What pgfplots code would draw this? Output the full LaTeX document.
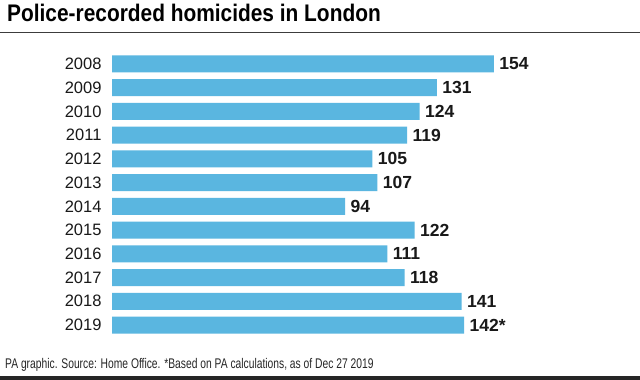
\documentclass[border=0pt]{standalone}
\usepackage{pgfplots}
\pgfplotsset{compat=1.18}
\usepackage{fontspec}
\setmainfont{Liberation Sans}
\definecolor{barblue}{RGB}{90,182,224}
\definecolor{rulegray}{RGB}{60,60,60}
\begin{document}
\begin{tikzpicture}[x=1pt,y=1pt]
\useasboundingbox (0,0) rectangle (640,380);
\fill[white] (0,0) rectangle (640,380);
\node[anchor=base west,inner sep=0pt,font=\bfseries\fontsize{24}{28}\selectfont] at (7,358) {\scalebox{0.87}[1]{Police-recorded homicides in London}};
\draw[rulegray,line width=1.5pt] (0,347.5) -- (640,347.5);
\node[anchor=base west,inner sep=0pt,font=\fontsize{14}{16}\selectfont,text=black!85] at (5,11) {\scalebox{0.735}[1]{PA graphic. Source: Home Office. *Based on PA calculations, as of Dec 27 2019}};
\fill[black!85] (0,0) rectangle (640,4);
\begin{axis}[
  at={(112pt,43.1pt)}, anchor=south west,
  scale only axis, width=496pt, height=284.8pt,
  xmin=0, xmax=200, ymin=-0.5, ymax=11.5, y dir=reverse,
  xbar, bar width=17pt,
  axis line style={draw=none},
  xtick=\empty, ytick={0,...,11},
  yticklabels={2008,2009,2010,2011,2012,2013,2014,2015,2016,2017,2018,2019},
  major tick length=0pt,
  yticklabel style={font=\fontsize{16.5}{18}\selectfont,text=black!90,xshift=-7pt},
  nodes near coords, point meta=explicit symbolic,
  nodes near coords style={font=\bfseries\fontsize{17.5}{20}\selectfont,text=black!90,anchor=west,xshift=2pt},
  clip=false,
]
\addplot[fill=barblue,draw=none] table[meta=lab] {
x y lab
154 0 154
131 1 131
124 2 124
119 3 119
105 4 105
107 5 107
94 6 94
122 7 122
111 8 111
118 9 118
141 10 141
142 11 142*
};
\end{axis}
\end{tikzpicture}
\end{document}
